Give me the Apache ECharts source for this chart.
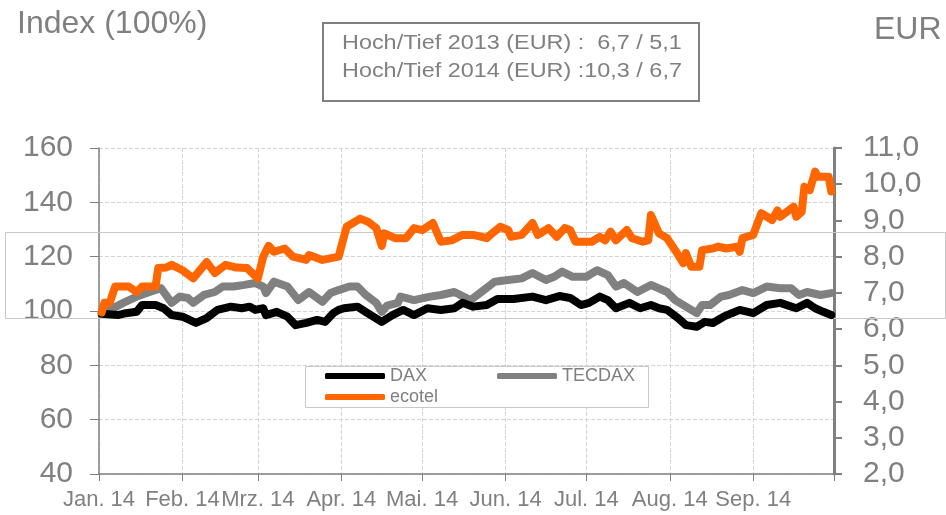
<!DOCTYPE html>
<html lang="de">
<head>
    <meta charset="UTF-8">
    <title>ecotel Index</title>
    <script src="https://cdn.jsdelivr.net/npm/echarts@6/dist/echarts.min.js"></script>
    <style>
        html, body { margin: 0; padding: 0; background: #fff; }
        #container { width: 946px; height: 515px; }
    </style>
</head>
<body>
<div id="container"></div>
<script type="text/javascript">
    // Monatsbeschriftung der x-Achse
    const monthLabels = ['Jan. 14', 'Feb. 14', 'Mrz. 14', 'Apr. 14', 'Mai. 14', 'Jun. 14', 'Jul. 14', 'Aug. 14', 'Sep. 14'];

    // Index-Werte (100% = Jahresanfang)
    const dax = [
        ['01-02', 99], ['01-08', 98.5], ['01-11', 99.2], ['01-15', 99.7], ['01-17', 102.2], ['01-22', 102.2],
        ['01-25', 101], ['01-28', 98.5], ['02-01', 97.9], ['02-06', 95.6], ['02-10', 97.4], ['02-14', 100.4],
        ['02-19', 101.6], ['02-23', 101], ['02-26', 101.6], ['02-28', 100.4], ['03-03', 101], ['03-04', 98.5],
        ['03-08', 99.7], ['03-12', 97.9], ['03-15', 94.8], ['03-19', 95.6], ['03-23', 96.7], ['03-26', 96],
        ['03-29', 99.2], ['03-31', 100.4], ['04-02', 101], ['04-07', 101.6], ['04-10', 99.7], ['04-16', 96],
        ['04-20', 98.5], ['04-24', 100.4], ['04-28', 98.5], ['05-03', 101], ['05-08', 100.4], ['05-13', 101],
        ['05-16', 103], ['05-20', 101.6], ['05-25', 102.2], ['05-29', 104.4], ['06-04', 104.4], ['06-11', 105.3],
        ['06-16', 104], ['06-21', 105.5], ['06-25', 104.8], ['06-29', 102.2], ['07-02', 103], ['07-06', 105.3],
        ['07-09', 104], ['07-12', 101], ['07-17', 103], ['07-21', 101], ['07-25', 102.2], ['07-28', 101],
        ['07-31', 100.4], ['08-04', 97.4], ['08-07', 94.8], ['08-11', 94.2], ['08-14', 96], ['08-17', 95.6],
        ['08-21', 97.9], ['08-24', 99.2], ['08-27', 100.4], ['09-01', 99.2], ['09-06', 102.2], ['09-11', 103],
        ['09-17', 101], ['09-21', 103], ['09-24', 101], ['09-27', 99.7], ['09-30', 98.5]
    ];
    const tecdax = [
        ['01-02', 99.5], ['01-05', 100.4], ['01-10', 103], ['01-15', 105.3], ['01-19', 106.7], ['01-22', 107.7],
        ['01-24', 108.4], ['01-28', 103], ['01-31', 105.3], ['02-03', 104.8], ['02-05', 103], ['02-09', 105.9],
        ['02-13', 107], ['02-16', 109], ['02-20', 109], ['02-24', 109.6], ['02-28', 110.3], ['03-03', 109],
        ['03-04', 106.6], ['03-07', 110.8], ['03-12', 109], ['03-16', 104], ['03-20', 107], ['03-25', 103.4],
        ['03-28', 106.6], ['03-31', 107.7], ['04-04', 109], ['04-07', 109], ['04-10', 106], ['04-14', 103],
        ['04-16', 99.7], ['04-18', 102], ['04-22', 103], ['04-23', 105.3], ['04-28', 104], ['05-04', 105.3],
        ['05-08', 105.9], ['05-13', 107], ['05-19', 104], ['05-23', 107], ['05-28', 110.8], ['06-02', 111.4],
        ['06-07', 112], ['06-11', 114], ['06-16', 111.4], ['06-19', 112.6], ['06-22', 114.5], ['06-26', 112.6],
        ['07-01', 112.6], ['07-05', 115], ['07-09', 113.2], ['07-12', 109], ['07-15', 110.3], ['07-20', 107],
        ['07-25', 109.6], ['07-31', 107], ['08-03', 104], ['08-07', 101.6], ['08-11', 99.2], ['08-13', 102.2],
        ['08-16', 102.2], ['08-20', 105.3], ['08-23', 105.9], ['08-28', 107.7], ['09-01', 106.6], ['09-06', 109],
        ['09-11', 108.4], ['09-15', 108.4], ['09-18', 105.9], ['09-21', 107], ['09-26', 105.9], ['09-30', 106.6]
    ];
    const ecotel = [
        ['01-02', 99.5], ['01-03', 103], ['01-05', 103], ['01-07', 109], ['01-12', 109], ['01-15', 107],
        ['01-17', 109], ['01-22', 109], ['01-23', 115.8], ['01-26', 116], ['01-28', 117], ['02-01', 115],
        ['02-05', 112], ['02-10', 118], ['02-13', 114], ['02-17', 117], ['02-21', 116], ['02-25', 115.8],
        ['03-01', 112], ['03-03', 120], ['03-05', 124], ['03-07', 121.8], ['03-11', 123], ['03-14', 120],
        ['03-19', 118.8], ['03-20', 120.6], ['03-25', 118.8], ['03-31', 120], ['04-01', 123.7], ['04-03', 131],
        ['04-08', 134], ['04-11', 132.8], ['04-14', 130.5], ['04-16', 124], ['04-17', 128.6], ['04-21', 126.8],
        ['04-25', 126.8], ['04-28', 130.5], ['05-01', 129.8], ['05-05', 132.4], ['05-08', 125.5], ['05-12', 126],
        ['05-16', 128], ['05-20', 128], ['05-25', 126.8], ['05-27', 128.6], ['05-30', 131], ['06-02', 129.8],
        ['06-03', 127.3], ['06-07', 128], ['06-11', 132.4], ['06-13', 128], ['06-17', 130.5], ['06-20', 127.3],
        ['06-23', 130.5], ['06-25', 129.8], ['06-27', 125.5], ['07-03', 125.5], ['07-06', 127.3], ['07-08', 126],
        ['07-10', 129.2], ['07-12', 126], ['07-16', 129.8], ['07-18', 126.8], ['07-22', 125.5], ['07-24', 126],
        ['07-25', 135.3], ['07-28', 128.6], ['07-31', 126.8], ['08-03', 122.4], ['08-06', 117.6], ['08-07', 121.3],
        ['08-09', 116.3], ['08-12', 116.3], ['08-13', 122.4], ['08-17', 123], ['08-19', 123.7], ['08-22', 123],
        ['08-26', 123.7], ['08-27', 121.8], ['08-28', 126.8], ['09-01', 128], ['09-04', 136], ['09-08', 133.5],
        ['09-10', 137], ['09-11', 134.7], ['09-16', 138.4], ['09-17', 134.7], ['09-19', 136.5], ['09-20', 145.7],
        ['09-22', 144.5], ['09-24', 151.3], ['09-25', 149.4], ['09-29', 149.4], ['09-30', 144]
    ];

    const infoLines = ['Hoch/Tief 2013 (EUR) :  6,7 / 5,1', 'Hoch/Tief 2014 (EUR) :10,3 / 6,7'];

    // alle Kalendertage 01.01. - 01.10.2014 als Kategorien
    let days = [];
    for (let d = new Date(Date.UTC(2014, 0, 1)); d.getTime() <= Date.UTC(2014, 9, 1); d.setUTCDate(d.getUTCDate() + 1)) {
        days.push(String(d.getUTCMonth() + 1).padStart(2, '0') + '-' + String(d.getUTCDate()).padStart(2, '0'));
    }
    let isMonthStart = function (index, value) {
        return String(value).slice(3) === '01';
    };

    let gray = '#808080';
    let font = '"Liberation Sans", Arial, sans-serif';
    let myChart = echarts.init(document.getElementById('container'));

    let option = {
        backgroundColor: '#fff',
        animation: false,
        textStyle: { fontFamily: font },
        grid: { left: 99, right: 112, top: 148, bottom: 41 },
        legend: [
            {
                data: ['DAX', 'TECDAX'],
                left: 325, top: 367, z: 10, padding: 0,
                icon: 'roundRect', itemWidth: 60, itemHeight: 6, itemGap: 70,
                textStyle: { fontSize: 18, color: gray, fontFamily: font }
            },
            {
                data: ['ecotel'],
                left: 325, top: 388, z: 10, padding: 0,
                icon: 'roundRect', itemWidth: 60, itemHeight: 6,
                textStyle: { fontSize: 18, color: gray, fontFamily: font }
            }
        ],
        xAxis: {
            type: 'category',
            data: days,
            boundaryGap: false,
            axisLine: { lineStyle: { color: gray, width: 1.5 } },
            axisTick: { interval: isMonthStart, length: 7, lineStyle: { color: gray } },
            axisLabel: {
                interval: isMonthStart,
                margin: 15,
                fontSize: 22,
                color: gray,
                fontFamily: font,
                formatter: function (value) {
                    let m = parseInt(value.slice(0, 2), 10);
                    return monthLabels[m - 1] || '';
                }
            },
            splitLine: { show: true, interval: isMonthStart, lineStyle: { color: '#d4d4d4', type: 'dashed' } }
        },
        yAxis: [
            {
                type: 'value',
                min: 40, max: 160, interval: 20,
                axisLine: { show: true, lineStyle: { color: gray, width: 1.5 } },
                axisTick: { show: true, length: 9, lineStyle: { color: gray } },
                axisLabel: { fontSize: 30, color: gray, margin: 26, fontFamily: font },
                splitLine: { lineStyle: { color: '#d4d4d4', type: 'dashed' } }
            },
            {
                type: 'value',
                position: 'right',
                min: 2, max: 11, interval: 1,
                axisLine: { show: true, lineStyle: { color: gray, width: 3 } },
                axisTick: { show: true, length: 8, lineStyle: { color: gray, width: 2 } },
                axisLabel: {
                    fontSize: 30, color: gray, margin: 29, fontFamily: font,
                    formatter: function (v) { return v.toFixed(1).replace('.', ','); }
                },
                splitLine: { show: false }
            }
        ],
        series: [
            {
                name: 'DAX', type: 'line', data: dax, showSymbol: false, z: 4,
                itemStyle: { color: '#000000' },
                lineStyle: { color: '#000000', width: 8, cap: 'round', join: 'round' }
            },
            {
                name: 'TECDAX', type: 'line', data: tecdax, showSymbol: false, z: 3,
                itemStyle: { color: '#808080' },
                lineStyle: { color: '#808080', width: 8, cap: 'round', join: 'round' }
            },
            {
                name: 'ecotel', type: 'line', data: ecotel, showSymbol: false, z: 5,
                itemStyle: { color: '#ff6600' },
                lineStyle: { color: '#ff6600', width: 8, cap: 'round', join: 'round' }
            }
        ],
        graphic: [
            { type: 'text', x: 17, y: 24, style: { text: 'Index (100%)', fill: gray, font: '32px ' + font, verticalAlign: 'middle' } },
            { type: 'text', x: 874, y: 30, style: { text: 'EUR', fill: gray, font: '32px ' + font, verticalAlign: 'middle' } },
            { type: 'rect', shape: { x: 323, y: 23, width: 376, height: 78 }, style: { fill: '#fff', stroke: gray, lineWidth: 2 } },
            { type: 'text', x: 342, y: 43, scaleX: 1.17, style: { text: infoLines[0], fill: gray, font: '20px ' + font, verticalAlign: 'middle' } },
            { type: 'text', x: 342, y: 71, scaleX: 1.17, style: { text: infoLines[1], fill: gray, font: '20px ' + font, verticalAlign: 'middle' } },
            { type: 'rect', z: 1, shape: { x: 5.5, y: 232.5, width: 940, height: 86 }, style: { fill: 'none', stroke: '#c8c8c8', lineWidth: 1 } },
            { type: 'rect', z: 6, shape: { x: 305.5, y: 366.5, width: 343, height: 41 }, style: { fill: '#fff', stroke: '#c8c8c8', lineWidth: 1 } }
        ]
    };
    myChart.setOption(option);
</script>
</body>
</html>
